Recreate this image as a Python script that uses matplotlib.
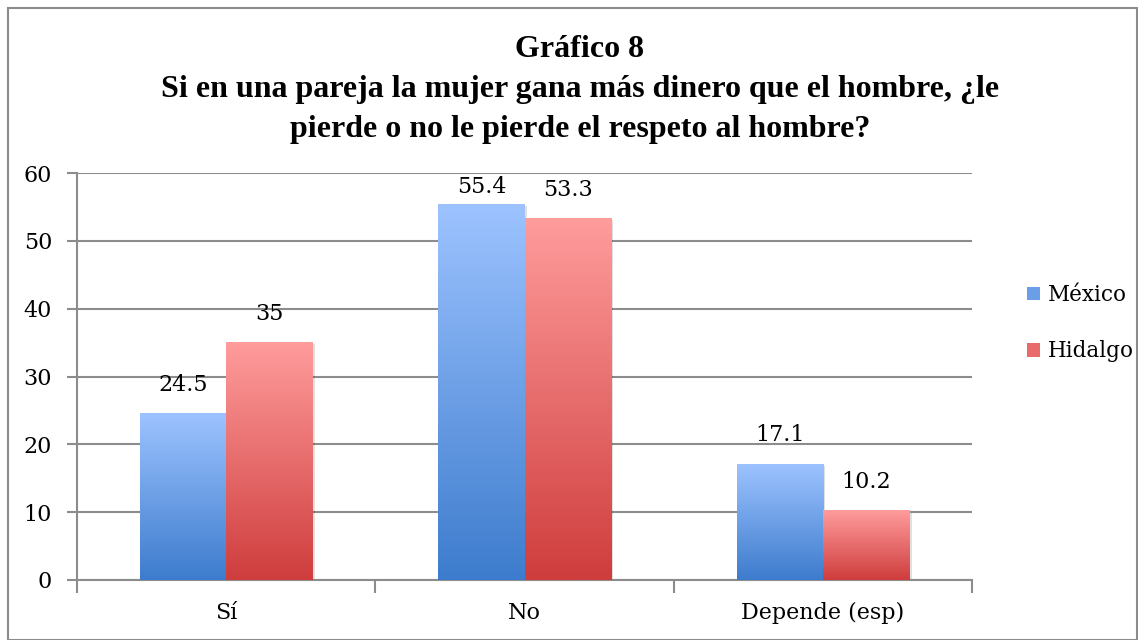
import numpy as np
import matplotlib
matplotlib.use("Agg")
import matplotlib.pyplot as plt
from matplotlib.colors import LinearSegmentedColormap
from matplotlib.patches import Rectangle, Patch

categories = ["Sí", "No", "Depende (esp)"]
series_names = ["México", "Hidalgo"]
mexico = [24.5, 55.4, 17.1]
hidalgo = [35, 53.3, 10.2]
value_labels = [["24.5", "55.4", "17.1"], ["35", "53.3", "10.2"]]
title = "Gráfico 8\nSi en una pareja la mujer gana más dinero que el hombre, ¿le\npierde o no le pierde el respeto al hombre?"

tick_font = "DejaVu Serif"
fig = plt.figure(figsize=(11.38, 6.4), dpi=100)
ax = fig.add_axes([0.0677, 0.09375, 0.7865, 0.6359])

# figure border
fig.patches.append(Rectangle((8/1138, 0), (1137-8)/1138, (640-8)/640, transform=fig.transFigure,
                             fill=False, edgecolor="#8c8c8c", linewidth=1.5))

gradients = [("#9dc3ff", "#3d7ccd"), ("#ff9c9c", "#cf3d3d")]
mid_colors = ["#6a9fe8", "#e86a6a"]
x = np.arange(len(categories))
w = 0.289
for si, vals in enumerate([mexico, hidalgo]):
    offs = (si - 0.5) * w
    bars = ax.bar(x + offs, vals, width=w, color="none", edgecolor="none", zorder=3)
    top_c, bot_c = gradients[si]
    cmap = LinearSegmentedColormap.from_list("g%d" % si, [bot_c, top_c])
    for bi, b in enumerate(bars):
        x0, y0, bw, bh = b.get_x(), b.get_y(), b.get_width(), b.get_height()
        sh = Rectangle((x0 + 0.008, y0 - 0.25), bw, bh, facecolor="#000000", alpha=0.12,
                       edgecolor="none", zorder=2.5)
        ax.add_patch(sh)
        grad = np.linspace(0, 1, 256).reshape(-1, 1)
        ax.imshow(grad, extent=(x0, x0 + bw, y0, y0 + bh), origin="lower", cmap=cmap,
                  aspect="auto", zorder=3, interpolation="bilinear")
        ly = min(bh + 2.6, 56.3)
        ax.text(x0 + bw / 2, ly, value_labels[si][bi], ha="center", va="bottom",
                fontsize=16, family=tick_font, color="black", zorder=5)

ax.set_xlim(-0.5, 2.5)
ax.set_ylim(0, 60)
ax.set_yticks(np.arange(0, 61, 10))
ax.set_yticklabels([str(v) for v in range(0, 61, 10)], fontsize=16, family=tick_font)
ax.set_xticks(x)
ax.set_xticklabels(categories, fontsize=16, family=tick_font)
ax.set_xticks([-0.5, 0.5, 1.5, 2.5], minor=True)
ax.tick_params(axis="x", which="major", length=0, pad=16)
ax.tick_params(axis="x", which="minor", length=9, width=1.5, color="#8c8c8c", direction="out")
ax.tick_params(axis="y", length=7, width=1.5, color="#8c8c8c", direction="out", pad=11)
ax.grid(axis="y", color="#8c8c8c", linewidth=1.5, zorder=1)
ax.set_axisbelow(True)
for s in ["top", "right"]:
    ax.spines[s].set_visible(False)
for s in ["left", "bottom"]:
    ax.spines[s].set_color("#8c8c8c")
    ax.spines[s].set_linewidth(1.5)

handles = [Patch(facecolor=c, edgecolor="none") for c in mid_colors]
leg = fig.legend(handles, series_names, loc="center left", bbox_to_anchor=(0.9025, 0.495),
                 frameon=False, prop={"family": tick_font, "size": 15.5},
                 handlelength=0.6, handleheight=0.6, handletextpad=0.35, labelspacing=1.6,
                 borderaxespad=0, borderpad=0)

fig.text(0.5097, 0.946, title, ha="center", va="top", fontsize=23, fontweight="bold",
         family="Liberation Serif", linespacing=1.5)

fig.savefig("out.png", dpi=100)
